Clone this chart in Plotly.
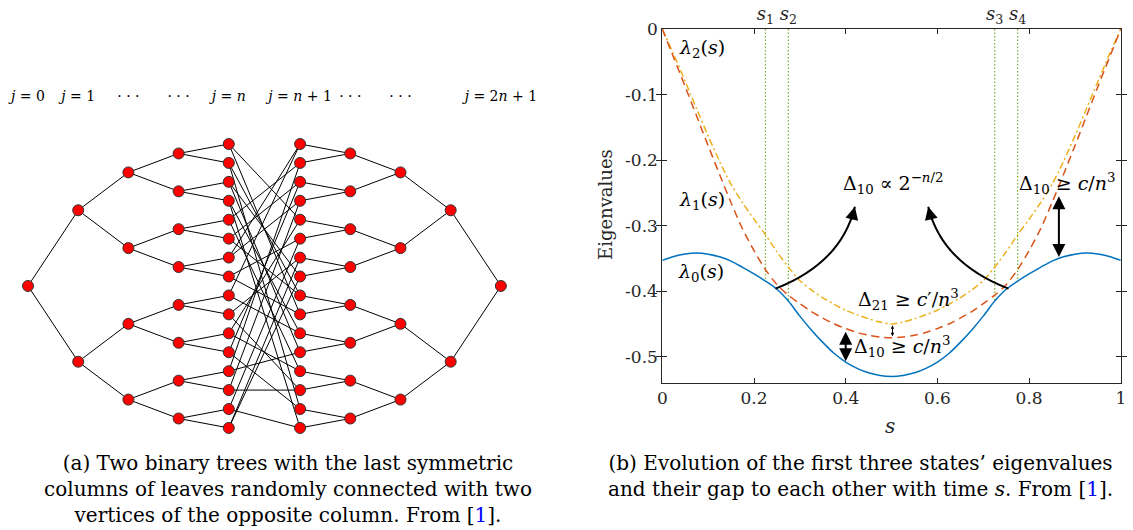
import plotly.graph_objects as go

# ---------------- data: glued binary trees ----------------
depth = 4                      # n (levels 0..n on each side)
col_pos = [0, 1, 2, 3, 4, 5.42, 6.42, 7.42, 8.42, 9.42]   # column positions j = 0..2n+1
col_labels = ["<i>j</i> = 0", "<i>j</i> = 1", "· · ·", "· · ·", "<i>j</i> = <i>n</i>",
              "<i>j</i> = <i>n</i> + 1", "· · ·", "· · ·", "", "<i>j</i> = 2<i>n</i> + 1"]
# random connections: (left leaf index, right leaf index)
cross_edges = [(0, 4), (0, 9), (1, 8), (1, 14), (2, 7), (2, 11), (3, 10), (3, 15),
               (4, 1), (4, 12), (5, 2), (5, 8), (6, 0), (6, 3), (7, 5), (7, 9),
               (8, 0), (8, 10), (9, 6), (9, 13), (10, 4), (10, 12), (11, 2), (11, 14),
               (12, 1), (12, 11), (13, 13), (13, 3), (14, 15), (14, 5), (15, 6), (15, 7)]

# ---------------- data: eigenvalues ----------------
s_vals = [0.0, 0.025, 0.05, 0.075, 0.1, 0.125, 0.15, 0.175, 0.2, 0.225, 0.25, 0.275, 0.3, 0.325,
          0.35, 0.375, 0.4, 0.425, 0.45, 0.475, 0.5, 0.525, 0.55, 0.575, 0.6, 0.625, 0.65, 0.675,
          0.7, 0.725, 0.75, 0.775, 0.8, 0.825, 0.85, 0.875, 0.9, 0.925, 0.95, 0.975, 1.0]
lam0 = [-0.353, -0.347, -0.3433, -0.3418, -0.3435, -0.3475, -0.354, -0.3635, -0.3735, -0.3845, -0.397,
        -0.415, -0.438, -0.459, -0.478, -0.495, -0.508, -0.5176, -0.5245, -0.5286, -0.530,
        -0.5286, -0.5245, -0.5176, -0.508, -0.495, -0.478, -0.459, -0.438, -0.415, -0.397,
        -0.3845, -0.3735, -0.3635, -0.354, -0.3475, -0.3435, -0.3418, -0.3433, -0.347, -0.353]
lam1 = [0.0, -0.044, -0.088, -0.133, -0.178, -0.222, -0.265, -0.305, -0.338, -0.367, -0.390,
        -0.406, -0.419, -0.431, -0.441, -0.450, -0.457, -0.463, -0.467, -0.470, -0.471,
        -0.470, -0.467, -0.463, -0.457, -0.450, -0.441, -0.431, -0.419, -0.406, -0.390,
        -0.367, -0.338, -0.305, -0.265, -0.222, -0.178, -0.133, -0.088, -0.044, 0.0]
lam2 = [0.0, -0.039, -0.080, -0.122, -0.163, -0.202, -0.237, -0.265, -0.290, -0.314, -0.340,
        -0.363, -0.384, -0.398, -0.410, -0.420, -0.429, -0.436, -0.442, -0.447, -0.450,
        -0.447, -0.442, -0.436, -0.429, -0.420, -0.410, -0.398, -0.384, -0.363, -0.340,
        -0.314, -0.290, -0.265, -0.237, -0.202, -0.163, -0.122, -0.080, -0.039, 0.0]
s_marks = [0.225, 0.275, 0.725, 0.775]
s_mark_labels = ["<i>s</i><sub>1</sub>", "<i>s</i><sub>2</sub>", "<i>s</i><sub>3</sub>", "<i>s</i><sub>4</sub>"]
lam0_at_marks = [-0.384, -0.415, -0.415, -0.384]
x_ticks = [0, 0.2, 0.4, 0.6, 0.8, 1]
x_ticklabels = ["0", "0.2", "0.4", "0.6", "0.8", "1"]
y_ticks = [0, -0.1, -0.2, -0.3, -0.4, -0.5]
y_ticklabels = ["0", "-0.1", "-0.2", "-0.3", "-0.4", "-0.5"]

# curved arrows: start, control, end (s, value)
curved_arrows = [((0.247, -0.396), (0.39, -0.357), (0.42, -0.271)),
                 ((0.755, -0.396), (0.61, -0.357), (0.58, -0.271))]
# double arrows: s, top, bottom, width, head size
double_arrows = [(0.40, -0.462, -0.509, 2.0, 1.3), (0.502, -0.452, -0.471, 1.0, 0.7),
                 (0.865, -0.255, -0.350, 2.0, 1.3)]
# text labels: text, s, value, anchor
plot_texts = [("<i>λ</i><sub>2</sub>(<i>s</i>)", 0.033, -0.029, "left"),
              ("<i>λ</i><sub>1</sub>(<i>s</i>)", 0.033, -0.262, "left"),
              ("<i>λ</i><sub>0</sub>(<i>s</i>)", 0.030, -0.371, "left"),
              ("Δ<sub>10</sub> ∝ 2<sup>−<i>n</i>/2</sup>", 0.504, -0.236, "center"),
              ("Δ<sub>10</sub> ≥ <i>c</i>/<i>n</i><sup>3</sup>", 0.883, -0.236, "center"),
              ("Δ<sub>21</sub> ≥ <i>c</i>′/<i>n</i><sup>3</sup>", 0.538, -0.413, "center"),
              ("Δ<sub>10</sub> ≥ <i>c</i>/<i>n</i><sup>3</sup>", 0.522, -0.484, "center")]

caption_a = ("(a) Two binary trees with the last symmetric<br>columns of leaves randomly connected with two"
             "<br>vertices of the opposite column. From [<span style='color:#0000ff'>1</span>].")
caption_b = ("(b) Evolution of the first three states’ eigenvalues<br>and their gap to each other with time "
             "<i>s</i>. From [<span style='color:#0000ff'>1</span>].")

SERIF = "DejaVu Serif"
AX = "#262626"

# ---------------- build graph geometry ----------------
def level_y(j, m):
    span = 2 ** (depth - j)
    return m * span + (span - 1) / 2.0

node_x, node_y = [], []
edge_x, edge_y = [], []
ncol = 2 * depth + 2
for j in range(depth + 1):
    for side in (0, 1):
        cx = col_pos[j] if side == 0 else col_pos[ncol - 1 - j]
        for m in range(2 ** j):
            node_x.append(cx)
            node_y.append(level_y(j, m))
            if j < depth:
                nx = col_pos[j + 1] if side == 0 else col_pos[ncol - 2 - j]
                for c in (2 * m, 2 * m + 1):
                    edge_x += [cx, nx, None]
                    edge_y += [level_y(j, m), level_y(j + 1, c), None]
for a, b in cross_edges:
    edge_x += [col_pos[depth], col_pos[depth + 1], None]
    edge_y += [level_y(depth, a), level_y(depth, b), None]

fig = go.Figure()
fig.add_trace(go.Scatter(x=edge_x, y=edge_y, mode="lines", line=dict(color="black", width=1),
                         hoverinfo="skip", showlegend=False, xaxis="x", yaxis="y"))
fig.add_trace(go.Scatter(x=node_x, y=node_y, mode="markers",
                         marker=dict(size=11, color="#ff0000", line=dict(color="#333333", width=1)),
                         hoverinfo="skip", showlegend=False, xaxis="x", yaxis="y"))
fig.add_trace(go.Scatter(x=col_pos, y=[-2.45] * len(col_pos), mode="text", text=col_labels,
                         textfont=dict(family=SERIF, size=14, color="black"),
                         hoverinfo="skip", showlegend=False, xaxis="x", yaxis="y"))

# ---------------- eigenvalue plot ----------------
gx, gy = [], []
for sm, lv in zip(s_marks, lam0_at_marks):
    gx += [sm, sm, None]
    gy += [0, lv, None]
fig.add_trace(go.Scatter(x=gx, y=gy, mode="lines", line=dict(color="#77AC30", width=1.2, dash="1.5px,2px"),
                         hoverinfo="skip", showlegend=False, xaxis="x2", yaxis="y2"))
fig.add_trace(go.Scatter(x=s_vals, y=lam2, mode="lines",
                         line=dict(color="#EDB120", width=1.5, dash="7px,3px,2px,3px", shape="spline", smoothing=0.8),
                         showlegend=False, xaxis="x2", yaxis="y2"))
fig.add_trace(go.Scatter(x=s_vals, y=lam1, mode="lines",
                         line=dict(color="#D95319", width=1.5, dash="8px,5px", shape="spline", smoothing=0.8),
                         showlegend=False, xaxis="x2", yaxis="y2"))
fig.add_trace(go.Scatter(x=s_vals, y=lam0, mode="lines",
                         line=dict(color="#0072BD", width=1.5, shape="spline", smoothing=0.8),
                         showlegend=False, xaxis="x2", yaxis="y2"))
# invisible trace to carry the top (s_i) axis
fig.add_trace(go.Scatter(x=s_marks, y=[0] * len(s_marks), mode="markers", marker=dict(opacity=0),
                         hoverinfo="skip", showlegend=False, xaxis="x3", yaxis="y2"))

shapes = []
annotations = []
for (p0, c, p1) in curved_arrows:
    shapes.append(dict(type="path", xref="x2", yref="y2",
                       path=f"M {p0[0]},{p0[1]} Q {c[0]},{c[1]} {p1[0]},{p1[1]}",
                       line=dict(color="black", width=2)))
    bx = p1[0] - 0.25 * (p1[0] - c[0])
    by = p1[1] - 0.25 * (p1[1] - c[1])
    annotations.append(dict(x=p1[0], y=p1[1], ax=bx, ay=by, xref="x2", yref="y2", axref="x2", ayref="y2",
                            text="", showarrow=True, arrowhead=2, arrowsize=1.3, arrowwidth=2, arrowcolor="black",
                            standoff=0))
for sx, top, bot, w, hs in double_arrows:
    annotations.append(dict(x=sx, y=top, ax=sx, ay=bot, xref="x2", yref="y2", axref="x2", ayref="y2",
                            text="", showarrow=True, arrowhead=2, arrowside="end+start",
                            arrowsize=hs, arrowwidth=w, arrowcolor="black",
                            standoff=0, startstandoff=0))
for txt, sx, vy, anc in plot_texts:
    annotations.append(dict(x=sx, y=vy, xref="x2", yref="y2", text=txt, showarrow=False,
                            xanchor=anc, yanchor="middle", font=dict(family=SERIF, size=19, color="black")))

annotations.append(dict(x=605 / 1133, y=1 - 205 / 530, xref="paper", yref="paper", text="Eigenvalues",
                        textangle=-90, showarrow=False, xanchor="center", yanchor="middle",
                        font=dict(family=SERIF, size=18, color=AX)))
annotations.append(dict(x=890 / 1133, y=1 - 426 / 530, xref="paper", yref="paper", text="<i>s</i>",
                        showarrow=False, xanchor="center", yanchor="middle",
                        font=dict(family=SERIF, size=20, color=AX)))
annotations.append(dict(x=288 / 1133, y=1 - 489 / 530, xref="paper", yref="paper", text=caption_a,
                        showarrow=False, align="center", xanchor="center", yanchor="middle",
                        font=dict(family=SERIF, size=20, color="black")))
annotations.append(dict(x=860 / 1133, y=1 - 476 / 530, xref="paper", yref="paper", text=caption_b,
                        showarrow=False, align="center", xanchor="center", yanchor="middle",
                        font=dict(family=SERIF, size=20, color="black")))

axis_common = dict(showline=True, linecolor=AX, linewidth=1, mirror="allticks", ticks="inside",
                   ticklen=5, tickcolor=AX, showgrid=False, zeroline=False,
                   tickfont=dict(family=SERIF, size=17, color=AX))

px_per_unit_x = 50.2
px_per_unit_y = 18.93
fig.update_layout(
    width=1133, height=530, margin=dict(l=0, r=0, t=0, b=0, autoexpand=False),
    paper_bgcolor="white", plot_bgcolor="rgba(0,0,0,0)",
    xaxis=dict(domain=[0, 0.5], range=[-28 / px_per_unit_x, (566.5 - 28) / px_per_unit_x], visible=False),
    yaxis=dict(domain=[0, 1], range=[(530 - 144) / px_per_unit_y, -144 / px_per_unit_y], visible=False),
    xaxis2=dict(domain=[662.3 / 1133, 1120.8 / 1133], range=[0, 1], anchor="y2",
                tickvals=x_ticks, ticktext=x_ticklabels, **axis_common),
    yaxis2=dict(domain=[1 - 383 / 530, 1 - 29 / 530], range=[-0.54, 0], anchor="x2",
                tickvals=y_ticks, ticktext=y_ticklabels, **axis_common),
    xaxis3=dict(overlaying="x2", side="top", range=[0, 1], anchor="y2", tickvals=s_marks,
                ticktext=s_mark_labels, ticks="", showline=False, showgrid=False, zeroline=False,
                ticklabelstandoff=4, tickfont=dict(family=SERIF, size=18, color=AX)),
    shapes=shapes, annotations=annotations,
)

fig.write_html("out.html", config={"displayModeBar": False},
               post_script="document.body.style.margin='0px';")
